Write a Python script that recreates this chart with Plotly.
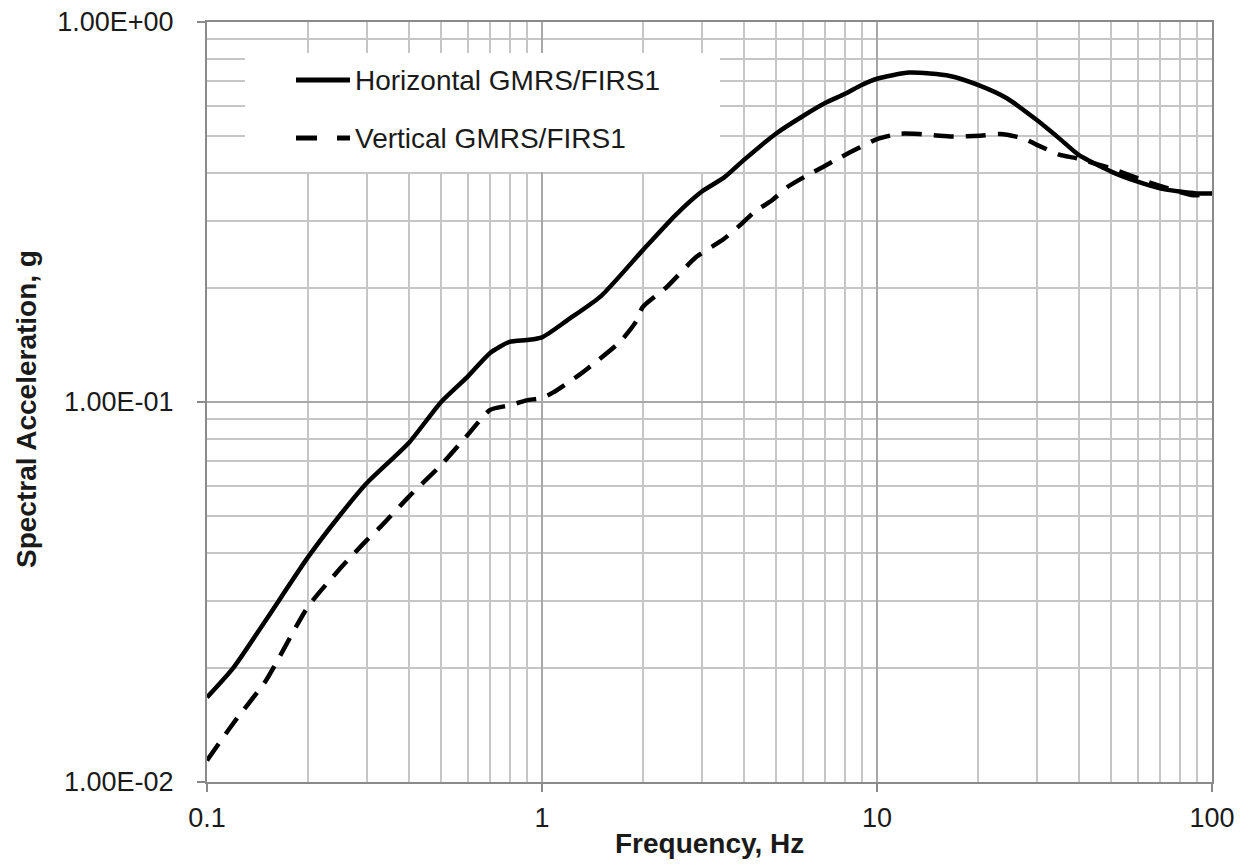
import plotly.graph_objects as go

# Horizontal GMRS/FIRS1 response spectrum (frequency in Hz, spectral acceleration in g)
freq_h = [0.1, 0.12, 0.15, 0.2, 0.25, 0.3, 0.4, 0.5, 0.6, 0.7, 0.8, 0.9, 1.0, 1.2, 1.5,
          2.0, 2.5, 3.0, 3.5, 4.0, 5.0, 6.0, 7.0, 8.0, 9.0, 10.0, 12.5, 16.5, 20.0,
          24.4, 30.0, 35.0, 40.0, 50.0, 60.0, 70.0, 80.0, 90.0, 100.0]
sa_h = [0.0167, 0.0200, 0.0267, 0.0390, 0.0505, 0.0612, 0.0780, 0.1000, 0.1166, 0.1346,
        0.1440, 0.1456, 0.1480, 0.1650, 0.1900, 0.2510, 0.3100, 0.3580, 0.3900, 0.4330,
        0.5090, 0.5650, 0.6120, 0.6460, 0.6830, 0.7090, 0.7360, 0.7210, 0.6830, 0.6300,
        0.5520, 0.4940, 0.4470, 0.4040, 0.3800, 0.3650, 0.3580, 0.3540, 0.3540]

# Vertical GMRS/FIRS1 response spectrum
freq_v = [0.1, 0.12, 0.15, 0.2, 0.25, 0.3, 0.33, 0.4, 0.5, 0.6, 0.7, 0.8, 0.9, 1.0, 1.08,
          1.27, 1.36, 1.71, 1.91, 2.0, 2.36, 2.89, 3.48, 3.85, 4.32, 4.85, 5.43, 6.1,
          6.92, 7.76, 8.9, 10.0, 11.7, 13.4, 16.5, 20.3, 23.3, 27.4, 30.0, 35.2, 39.4,
          50.0, 64.0, 88.0, 100.0]
sa_v = [0.0114, 0.0143, 0.0185, 0.0289, 0.0365, 0.0433, 0.0470, 0.0563, 0.0683, 0.0819,
        0.0953, 0.0980, 0.1010, 0.1025, 0.1060, 0.1166, 0.1220, 0.1440, 0.1630, 0.1780,
        0.2010, 0.2410, 0.2680, 0.2890, 0.3170, 0.3390, 0.3690, 0.3920, 0.4160, 0.4400,
        0.4680, 0.4920, 0.5080, 0.5070, 0.5000, 0.5020, 0.5070, 0.4940, 0.4750, 0.4470,
        0.4380, 0.4120, 0.3800, 0.3500, 0.3540]

series_names = ["Horizontal GMRS/FIRS1", "Vertical GMRS/FIRS1"]

x_major = [0.1, 1, 10, 100]
x_major_text = ["0.1", "1", "10", "100"]
x_minor = [m * d for d in (0.1, 1, 10) for m in range(2, 10)]
y_major = [0.01, 0.1, 1]
y_major_text = ["1.00E-02", "1.00E-01", "1.00E+00"]
y_minor = [m * d for d in (0.01, 0.1) for m in range(2, 10)]

FONT = "Liberation Sans, Arial, sans-serif"
GRID_MINOR = "#c6c6c6"
GRID_MAJOR = "#a8a8a8"
AXIS = "#8a8a8a"
TEXT = "#1a1a1a"

fig = go.Figure()
fig.add_trace(go.Scatter(
    x=freq_h, y=sa_h, mode="lines", name=series_names[0], showlegend=False,
    line=dict(color="black", width=4.5, shape="spline", smoothing=0.6),
))
fig.add_trace(go.Scatter(
    x=freq_v, y=sa_v, mode="lines", name=series_names[1], showlegend=False,
    line=dict(color="black", width=4.5, dash="20px,12px", shape="spline", smoothing=0.6),
))

axis_common = dict(
    type="log", automargin=False,
    showgrid=True, gridcolor=GRID_MAJOR, gridwidth=2,
    showline=True, linecolor=AXIS, linewidth=2, mirror=True,
    ticks="outside", ticklen=8, tickwidth=2, tickcolor=AXIS,
    tickfont=dict(family=FONT, size=27, color=TEXT),
    tickmode="array", zeroline=False,
)

fig.update_xaxes(
    **axis_common, range=[-1, 2], tickvals=x_major, ticktext=x_major_text,
    ticklabelstandoff=3,
    minor=dict(tickmode="array", tickvals=x_minor, showgrid=True,
               gridcolor=GRID_MINOR, gridwidth=2, ticks=""),
)
fig.update_yaxes(
    **axis_common, range=[-2, 0], tickvals=y_major, ticktext=y_major_text,
    ticklabelstandoff=18,
    minor=dict(tickmode="array", tickvals=y_minor, showgrid=True,
               gridcolor=GRID_MINOR, gridwidth=2, ticks=""),
)

# Legend panel: white box over the grid with line samples and labels
L, R, T, B = 207, 1212, 22, 782
W, H = R - L, B - T


def px_x(p):
    return (p - L) / W


def px_y(p):
    return (B - p) / H


shapes = [
    dict(type="rect", xref="paper", yref="paper", x0=px_x(245), x1=px_x(720),
         y0=px_y(172), y1=px_y(53), fillcolor="white", line=dict(width=0), layer="above"),
    dict(type="line", xref="paper", yref="paper", x0=px_x(296), x1=px_x(350),
         y0=px_y(80), y1=px_y(80), line=dict(color="black", width=5), layer="above"),
    dict(type="line", xref="paper", yref="paper", x0=px_x(296), x1=px_x(317),
         y0=px_y(138), y1=px_y(138), line=dict(color="black", width=5), layer="above"),
    dict(type="line", xref="paper", yref="paper", x0=px_x(337), x1=px_x(350),
         y0=px_y(138), y1=px_y(138), line=dict(color="black", width=5), layer="above"),
]

annotations = [
    dict(text=series_names[0], xref="paper", yref="paper", x=px_x(353), y=px_y(80),
         xanchor="left", yanchor="middle", showarrow=False,
         font=dict(family=FONT, size=28, color=TEXT)),
    dict(text=series_names[1], xref="paper", yref="paper", x=px_x(353), y=px_y(138),
         xanchor="left", yanchor="middle", showarrow=False,
         font=dict(family=FONT, size=28, color=TEXT)),
    dict(text="<b>Frequency, Hz</b>", xref="paper", yref="paper", x=0.5, y=px_y(843),
         xanchor="center", yanchor="middle", showarrow=False,
         font=dict(family=FONT, size=28, color=TEXT)),
    dict(text="<b>Spectral Acceleration, g</b>", xref="paper", yref="paper",
         x=px_x(26), y=px_y(409), xanchor="center", yanchor="middle", textangle=-90,
         showarrow=False, font=dict(family=FONT, size=28, color=TEXT)),
]

fig.update_layout(
    width=1251, height=865,
    margin=dict(l=L, r=1251 - R, t=T, b=865 - B, autoexpand=False),
    paper_bgcolor="white", plot_bgcolor="white",
    shapes=shapes, annotations=annotations, showlegend=False,
)

fig.write_html("out.html")
